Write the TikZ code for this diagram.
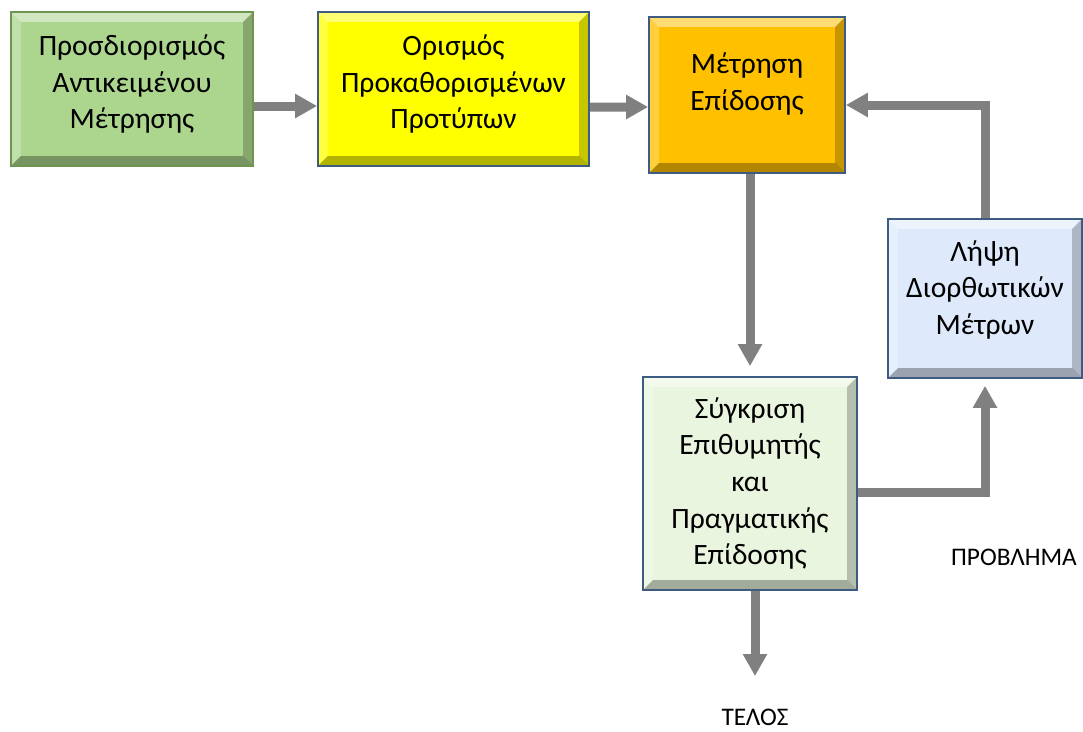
\documentclass[tikz,border=0pt]{standalone}
\usepackage{fontspec}
\setmainfont{Carlito}
\usepackage{tikz}
\usetikzlibrary{arrows.meta}
\definecolor{boxedge}{RGB}{62,92,130}
\definecolor{greenedge}{RGB}{110,150,80}
\definecolor{identfill}{RGB}{172,213,142}
\definecolor{templfill}{RGB}{255,255,0}
\definecolor{measfill}{RGB}{255,192,0}
\definecolor{corrfill}{RGB}{222,234,252}
\definecolor{compfill}{RGB}{234,245,223}
\definecolor{arrowgrey}{RGB}{128,128,128}
\tikzset{bevel/.style={path picture={
  \fill[white, opacity=.45] (path picture bounding box.north west) -- (path picture bounding box.north east)
    -- ([shift={(-0.25cm,-0.25cm)}]path picture bounding box.north east) -- ([shift={(0.25cm,-0.25cm)}]path picture bounding box.north west) -- cycle;
  \fill[white, opacity=.25] (path picture bounding box.north west) -- (path picture bounding box.south west)
    -- ([shift={(0.25cm,0.25cm)}]path picture bounding box.south west) -- ([shift={(0.25cm,-0.25cm)}]path picture bounding box.north west) -- cycle;
  \fill[black, opacity=.22] (path picture bounding box.north east) -- (path picture bounding box.south east)
    -- ([shift={(-0.25cm,0.25cm)}]path picture bounding box.south east) -- ([shift={(-0.25cm,-0.25cm)}]path picture bounding box.north east) -- cycle;
  \fill[black, opacity=.3] (path picture bounding box.south west) -- (path picture bounding box.south east)
    -- ([shift={(-0.25cm,0.25cm)}]path picture bounding box.south east) -- ([shift={(0.25cm,0.25cm)}]path picture bounding box.south west) -- cycle;
}}}
\tikzstyle{block} = [rectangle, draw=boxedge, line width=1.2pt, align=center, inner sep=0pt, font=\fontsize{21}{26}\selectfont, bevel]
\tikzstyle{outtext} = [inner sep=0pt, font=\fontsize{18}{22}\selectfont]
\tikzstyle{line} = [draw=arrowgrey, line width=0.225cm, -{Triangle[width=0.575cm, length=0.55cm]}]

\begin{document}
\begin{tikzpicture}[x=0.025cm, y=-0.025cm]
    \useasboundingbox (0,0) rectangle (1083,731);

    \node[block, fill=identfill, draw=greenedge, minimum width=6.05cm, minimum height=3.85cm, text depth=10pt](ident) at (132,89)
        {Προσδιορισμός\\Αντικειμένου\\Μέτρησης};
    \node[block, fill=templfill, minimum width=6.775cm, minimum height=3.85cm, text depth=10pt](templ) at (453.5,89)
        {Ορισμός\\Προκαθορισμένων\\Προτύπων};
    \node[block, fill=measfill, minimum width=4.9cm, minimum height=3.9cm, text depth=19pt](meas) at (747,95)
        {Μέτρηση\\Επίδοσης};
    \node[block, fill=corrfill, minimum width=4.85cm, minimum height=3.975cm, text depth=16pt](corr) at (985,298.5)
        {Λήψη\\Διορθωτικών\\Μέτρων};
    \node[block, fill=compfill, minimum width=5.35cm, minimum height=5.325cm](comp) at (750,483.5)
        {Σύγκριση\\Επιθυμητής\\και\\Πραγματικής\\Επίδοσης};

    \node[outtext](end) at (755,717) {ΤΕΛΟΣ};
    \node[outtext](problem) at (1014,557) {ΠΡΟΒΛΗΜΑ};
    \coordinate (endtip) at (755,676);

    \path[line] ([yshift=-0.425cm]ident.east) -- ([yshift=-0.425cm]templ.west);
    \path[line] ([yshift=-0.45cm]templ.east) -- ([yshift=-0.3cm]meas.west);
    \path[line] (meas.south -| comp.north) -- ([yshift=0.25cm]comp.north);
    \path[line] ([yshift=-0.2125cm]comp.east) -| ([yshift=-0.175cm]corr.south);
    \path[line] (corr.north) |- ([yshift=-0.25cm]meas.east);
    \path[line] (comp.south -| endtip) -- (endtip);
\end{tikzpicture}
\end{document}
